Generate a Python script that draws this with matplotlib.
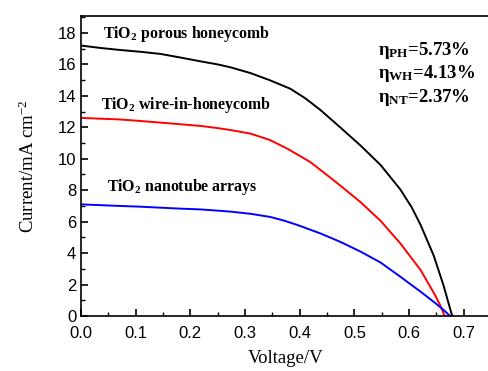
import matplotlib
matplotlib.use("Agg")
import matplotlib.pyplot as plt
from matplotlib.ticker import MultipleLocator

plt.rcParams['mathtext.fontset'] = 'custom'
plt.rcParams['mathtext.rm'] = 'Liberation Serif'
plt.rcParams['mathtext.it'] = 'Liberation Serif:italic'
plt.rcParams['mathtext.bf'] = 'Liberation Serif:bold'

# Data
v_ph = [0.0, 0.035, 0.071, 0.11, 0.145, 0.18, 0.218, 0.25, 0.273, 0.31, 0.345, 0.383, 0.41, 0.438,
        0.474, 0.511, 0.548, 0.584, 0.605, 0.621, 0.645, 0.663, 0.676, 0.679]
j_ph = [17.2, 17.05, 16.92, 16.8, 16.67, 16.45, 16.2, 16.0, 15.82, 15.45, 15.0, 14.45, 13.85, 13.1,
        12.0, 10.85, 9.6, 8.05, 6.9, 5.8, 3.85, 1.95, 0.35, 0.0]

v_wh = [0.0, 0.035, 0.071, 0.11, 0.145, 0.18, 0.218, 0.25, 0.273, 0.31, 0.345, 0.377, 0.419, 0.456,
        0.474, 0.511, 0.548, 0.584, 0.621, 0.648, 0.658, 0.665]
j_wh = [12.6, 12.55, 12.5, 12.4, 12.3, 12.2, 12.09, 11.95, 11.83, 11.6, 11.2, 10.65, 9.8, 8.8,
        8.3, 7.25, 6.05, 4.62, 2.93, 1.3, 0.6, 0.0]

v_nt = [0.0, 0.035, 0.071, 0.11, 0.145, 0.18, 0.218, 0.25, 0.273, 0.31, 0.346, 0.37, 0.395, 0.438,
        0.474, 0.511, 0.548, 0.584, 0.621, 0.648, 0.662, 0.675]
j_nt = [7.1, 7.05, 7.0, 6.95, 6.89, 6.83, 6.78, 6.7, 6.64, 6.5, 6.3, 6.08, 5.8, 5.25,
        4.72, 4.1, 3.4, 2.5, 1.55, 0.82, 0.42, 0.0]

labels = ['TiO$_\\mathbf{2}$ porous honeycomb', 'TiO$_\\mathbf{2}$ wire-in-honeycomb', 'TiO$_\\mathbf{2}$ nanotube arrays']
eff_names = ['PH', 'WH', 'NT']
eff_vals = ['5.73%', '4.13%', '2.37%']

fig = plt.figure(figsize=(4.89, 3.71), dpi=100)
ax = fig.add_axes([81/489, 1-316/371, (489-81)/489 + 0.002, (316-16)/371])

ax.plot(v_ph, j_ph, color='black', lw=1.4)
ax.plot(v_wh, j_wh, color='#ff0000', lw=1.4)
ax.plot(v_nt, j_nt, color='#0000ff', lw=1.4)

ax.set_xlim(0, 0.748)
ax.set_ylim(0, 19.08)
ax.xaxis.set_major_locator(MultipleLocator(0.1))
ax.xaxis.set_minor_locator(MultipleLocator(0.05))
ax.yaxis.set_major_locator(MultipleLocator(2))
ax.yaxis.set_minor_locator(MultipleLocator(1))
ax.tick_params(which='both', direction='in', top=False, right=False)
ax.tick_params(which='major', length=5, width=1.2, labelsize=12)
ax.tick_params(axis='x', which='major', pad=7)
ax.tick_params(which='minor', length=3, width=1.0)
for lab in ax.get_xticklabels() + ax.get_yticklabels():
    lab.set_fontfamily('Liberation Sans')
for s in ax.spines.values():
    s.set_linewidth(1.2)
ax.spines['right'].set_visible(False)

ax.set_xlabel('Voltage/V', family='Liberation Serif', fontsize=13.5, labelpad=7)
ax.set_ylabel('Current/mA cm$^{-2}$', family='Liberation Serif', fontsize=13.5, labelpad=14)

tf = dict(family='Liberation Serif', fontweight='bold', fontsize=11.4, va='center', ha='left')
ax.text(0.040, 17.95, labels[0], **tf)
ax.text(0.037, 13.4, labels[1], **tf)
ax.text(0.048, 8.2, labels[2], **tf)

ys = [16.9, 15.45, 13.9]
for n, val, y in zip(eff_names, eff_vals, ys):
    ax.text(0.544, y, 'η$_\\mathbf{' + n + '}$=' + val, family='Liberation Serif',
            fontweight='bold', fontsize=13.5, va='center', ha='left')

fig.savefig('out.png', dpi=100)
